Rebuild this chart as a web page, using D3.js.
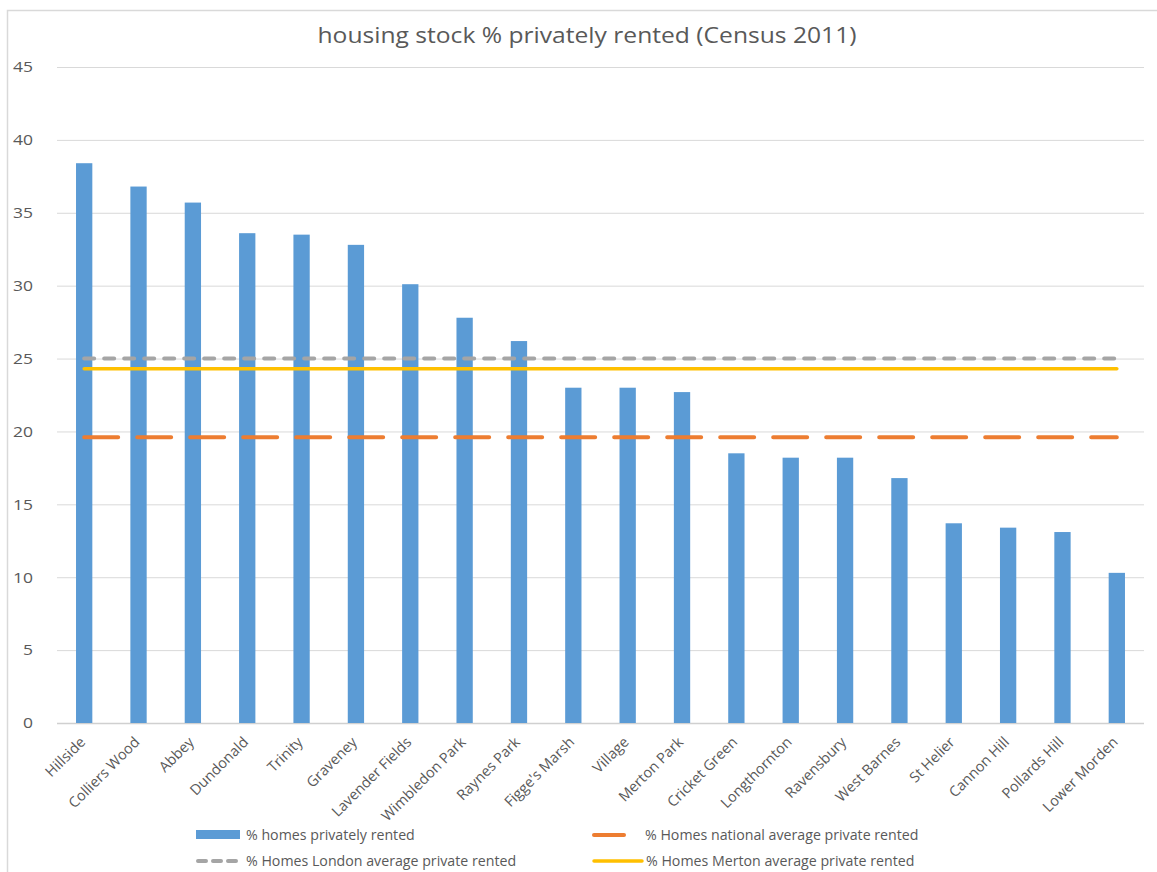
<!DOCTYPE html>
<html><head><meta charset="utf-8">
<script src="https://cdn.jsdelivr.net/npm/d3@7"></script>
<style>body{margin:0;background:#fff;}svg{display:block;font-family:"Open Sans",sans-serif;}</style>
</head><body>
<svg id="c" width="1157" height="872"></svg>
<script>
const categories = ["Hillside","Colliers Wood","Abbey","Dundonald","Trinity","Graveney","Lavender Fields","Wimbledon Park","Raynes Park","Figge's Marsh","Village","Merton Park","Cricket Green","Longthornton","Ravensbury","West Barnes","St Helier","Cannon Hill","Pollards Hill","Lower Morden"];
const rented = [38.4,36.8,35.7,33.6,33.5,32.8,30.1,27.8,26.2,23.0,23.0,22.7,18.5,18.2,18.2,16.8,13.7,13.4,13.1,10.3];
const nationalAvg = 19.6;
const londonAvg = 25.0;
const mertonAvg = 24.3;
const yTicks = [0,5,10,15,20,25,30,35,40,45];
const title = "housing stock % privately rented (Census 2011)";

const svg = d3.select("#c");
const txt = "#595959";
const FONT = "'Open Sans',sans-serif";
// chart frame
svg.append("rect").attr("x",7.5).attr("y",10.5).attr("width",1160).attr("height",870)
  .attr("fill","none").attr("stroke","#d9d9d9").attr("stroke-width",1.5);

const x = d3.scaleBand().domain(categories).range([57,1144]).paddingInner(0.7).paddingOuter(0.35);
const y = d3.scaleLinear().domain([0,45]).range([723,67]);

// gridlines
svg.append("g").selectAll("line").data(yTicks).join("line")
  .attr("x1",57).attr("x2",1144).attr("y1",d=>y(d)+0.5).attr("y2",d=>y(d)+0.5)
  .attr("stroke",d=>d===0?"#d0d0d0":"#d9d9d9").attr("stroke-width",d=>d===0?1.5:1);

// y axis labels
const yAxis = d3.axisLeft(y).tickValues(yTicks).tickSize(0).tickPadding(0);
const ya = svg.append("g").attr("transform","translate(33,0)").call(yAxis);
ya.select(".domain").remove();
ya.selectAll("text").attr("fill",txt).style("font-size","15px").style("font-family",FONT)
  .attr("textLength",function(){return this.textContent.length*10;}).attr("lengthAdjust","spacingAndGlyphs");

// bars
svg.append("g").selectAll("rect").data(rented).join("rect")
  .attr("x",(d,i)=>x(categories[i])).attr("width",x.bandwidth())
  .attr("y",d=>y(d)).attr("height",d=>y(0)-y(d)).attr("fill","#5b9bd5");

// average lines
const cx = c => x(c)+x.bandwidth()/2;
const lineGen = v => d3.line().x(c=>cx(c)).y(()=>y(v))(categories);
svg.append("path").attr("d",lineGen(londonAvg)).attr("fill","none").attr("stroke","#a5a5a5")
  .attr("stroke-width",4).attr("stroke-dasharray","10,10").attr("stroke-linecap","round");
svg.append("path").attr("d",lineGen(mertonAvg)).attr("fill","none").attr("stroke","#ffc000")
  .attr("stroke-width",3.5).attr("stroke-linecap","round");
svg.append("path").attr("d",lineGen(nationalAvg)).attr("fill","none").attr("stroke","#ed7d31")
  .attr("stroke-width",4).attr("stroke-dasharray","34,19").attr("stroke-linecap","round");

// x axis labels
const xAxis = d3.axisBottom(x).tickSize(0).tickPadding(0);
const xa = svg.append("g").attr("transform","translate(0,723)").call(xAxis);
xa.select(".domain").remove();
xa.selectAll("text").attr("fill",txt).style("font-size","14.5px").style("font-family",FONT)
  .attr("text-anchor","end").attr("dy",0).attr("y",0)
  .attr("transform","translate(2,20) rotate(-45)");

// title
svg.append("text").attr("x",587).attr("y",43).attr("text-anchor","middle").attr("fill",txt)
  .style("font-size","21px").attr("textLength",539).attr("lengthAdjust","spacingAndGlyphs").text(title);

// legend
const lg = svg.append("g").style("font-size","14.2px").attr("fill",txt);
lg.append("rect").attr("x",196).attr("y",830).attr("width",44).attr("height",9).attr("fill","#5b9bd5");
lg.append("text").attr("x",246).attr("y",840).text("% homes privately rented");
lg.append("line").attr("x1",594).attr("x2",624).attr("y1",835).attr("y2",835).attr("stroke","#ed7d31").attr("stroke-width",4).attr("stroke-linecap","round");
lg.append("text").attr("x",645).attr("y",840).text("% Homes national average private rented");
lg.append("line").attr("x1",198).attr("x2",240).attr("y1",861).attr("y2",861).attr("stroke","#a5a5a5").attr("stroke-width",4).attr("stroke-dasharray","8,7").attr("stroke-linecap","round");
lg.append("text").attr("x",246).attr("y",866).text("% Homes London average private rented");
lg.append("line").attr("x1",594).attr("x2",642).attr("y1",861).attr("y2",861).attr("stroke","#ffc000").attr("stroke-width",3.5).attr("stroke-linecap","round");
lg.append("text").attr("x",646).attr("y",866).text("% Homes Merton average private rented");
</script>
</body></html>
